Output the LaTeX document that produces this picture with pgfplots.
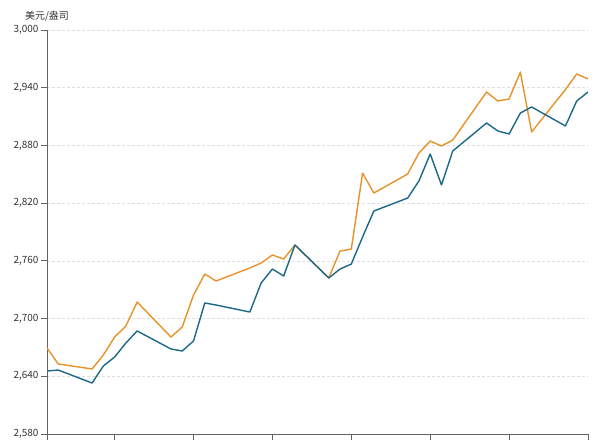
\documentclass[border=0pt]{standalone}
\usepackage{pgfplots}
\pgfplotsset{compat=1.18}
\usepackage{fontspec}
\setmainfont{Noto Sans CJK SC}
\definecolor{cblue}{RGB}{28,104,136}
\definecolor{corange}{RGB}{232,146,40}
\definecolor{axgray}{RGB}{100,100,100}
\begin{document}
\begin{tikzpicture}
\path[use as bounding box] (0,0) rectangle (612bp,440bp);
\begin{axis}[
  at={(47bp,6bp)}, anchor=south west,
  scale only axis, width=541bp, height=404bp,
  xmin=0, xmax=48, ymin=2580, ymax=3000,
  ytick={2580,2640,...,3000},
  xtick={0,6,13,20,27,34,41,48}, xticklabels={},
  axis x line*=bottom, axis y line*=left,
  axis line style={axgray, line width=0.9bp, -},
  tick align=outside, major tick length=6bp,
  tick style={axgray, line width=0.9bp},
  ymajorgrids, grid style={dash pattern=on 2.5bp off 2.5bp, black!13, line width=0.6bp},
  yticklabel style={font=\fontsize{10}{12}\selectfont, text=black!80, xshift=1bp},
  /pgf/number format/assume math mode=true,
  /pgf/number format/1000 sep={,},
  every axis plot/.append style={line width=1.4bp, line join=round},
]
\addplot[corange] coordinates {
(0,2669.4)(1,2652.8)(4,2647.6)(5,2662.1)(6,2680.8)(7,2692.3)(8,2717.2)
(11,2680.8)(12,2691.2)(13,2724.5)(14,2746.3)(15,2739.1)
(18,2752.6)(19,2757.8)(20,2766.1)(21,2761.9)(22,2776.5)
(25,2742.2)(26,2770.2)(27,2772.3)(28,2851.3)(29,2830.5)
(32,2850.3)(33,2872.1)(34,2884.6)(35,2879.4)(36,2885.6)
(39,2935.5)(40,2926.2)(41,2928.3)(42,2956.3)(43,2894.0)
(46,2938.1)(47,2954.3)(48,2949.1)
};
\addplot[cblue] coordinates {
(0,2645.5)(1,2646.5)(4,2633.0)(5,2650.7)(6,2660.0)(7,2674.6)(8,2687.1)
(11,2668.4)(12,2666.3)(13,2676.7)(14,2716.2)(15,2714.1)
(18,2706.8)(19,2737.0)(20,2751.5)(21,2744.3)(22,2776.5)
(25,2742.2)(26,2751.5)(27,2756.7)(28,2784.8)(29,2811.8)
(32,2825.3)(33,2843.0)(34,2871.1)(35,2838.9)(36,2874.2)
(39,2903.3)(40,2895.0)(41,2891.9)(42,2913.7)(43,2920.0)
(46,2900.2)(47,2926.2)(48,2935.5)
};
\end{axis}
\node[font=\fontsize{10}{12}\selectfont, text=black!80] at (47bp,424bp) {美元/盎司};
\end{tikzpicture}
\end{document}
